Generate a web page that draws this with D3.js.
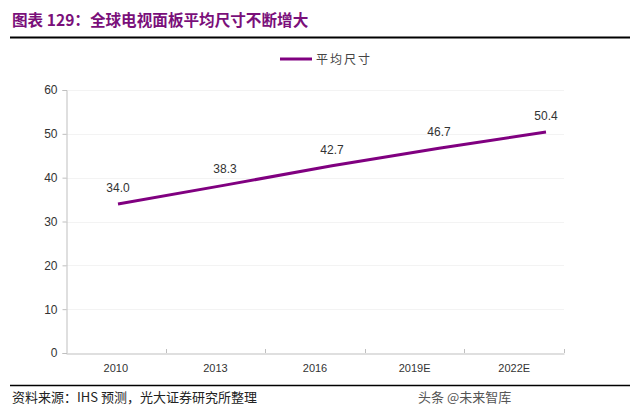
<!DOCTYPE html>
<html><head><meta charset="utf-8">
<script src="https://cdn.jsdelivr.net/npm/d3@7"></script>
<style>body{margin:0;background:#fff}svg{display:block}</style>
</head><body><svg id="c" width="640" height="415"></svg>
<script>
const categories = ["2010","2013","2016","2019E","2022E"];
const values = [34.0, 38.3, 42.7, 46.7, 50.4];
const yTicks = [0,10,20,30,40,50,60];
const seriesName = "平均尺寸";
const titleText = "图表 129：全球电视面板平均尺寸不断增大";
const sourceText = "资料来源：IHS 预测，光大证券研究所整理";
const watermark = "头条 @未来智库";

const svg = d3.select("#c");
const purple = "#800080";
const font = "'Liberation Sans', Arial, sans-serif";
const cjk = "'Noto Sans CJK SC', sans-serif";

svg.append("text").attr("x",12).attr("y",26).text(titleText)
  .attr("font-family",cjk).attr("font-weight","bold").attr("font-size",15.6).attr("fill","#7a0f7a");
svg.append("line").attr("x1",10).attr("x2",630).attr("y1",37.5).attr("y2",37.5).attr("stroke","#000").attr("stroke-width",2);
svg.append("line").attr("x1",10).attr("x2",630).attr("y1",385.5).attr("y2",385.5).attr("stroke","#000").attr("stroke-width",1.5);
svg.append("text").attr("x",12).attr("y",402).text(sourceText)
  .attr("font-family",cjk).attr("font-size",13).attr("fill","#222");
svg.append("text").attr("x",418).attr("y",402).text(watermark)
  .attr("font-family",cjk).attr("font-size",13).attr("fill","#555");

const x = d3.scaleBand().domain(categories).range([66,564]);
const xLine = d3.scalePoint().domain(categories).range([118,546]);
const y = d3.scaleLinear().domain([0,60]).range([353,90]);

// faint grid
svg.append("g").selectAll("line").data(yTicks.slice(1)).join("line")
  .attr("x1",66).attr("x2",564).attr("y1",d=>Math.round(y(d))+0.5).attr("y2",d=>Math.round(y(d))+0.5)
  .attr("stroke","#f3f3f3");

const yAxis = svg.append("g").attr("transform","translate(66.5,0)")
  .call(d3.axisLeft(y).tickValues(yTicks).tickSize(4).tickPadding(5));
const xAxis = svg.append("g").attr("transform","translate(0,353.5)")
  .call(d3.axisBottom(x).tickSize(0).tickPadding(11));
// x ticks at band boundaries
svg.append("g").selectAll("line").data(categories).join("line")
  .attr("x1",d=>Math.round(x(d)+x.bandwidth())+0.5).attr("x2",d=>Math.round(x(d)+x.bandwidth())+0.5)
  .attr("y1",353).attr("y2",349).attr("stroke","#bfbfbf");
[yAxis,xAxis].forEach(g=>{
  g.selectAll("path,line").attr("stroke","#bfbfbf");
  g.selectAll("text").attr("font-family",font).attr("font-size",12).attr("fill","#333");
});
xAxis.selectAll("text").attr("font-size",11);

const data = categories.map((c,i)=>({c,v:values[i]}));
svg.append("path").datum(data)
  .attr("d",d3.line().x(d=>xLine(d.c)).y(d=>y(d.v)))
  .attr("fill","none").attr("stroke",purple).attr("stroke-width",3);
svg.append("g").selectAll("text").data(data).join("text")
  .attr("x",d=>xLine(d.c)).attr("y",d=>y(d.v)-12).attr("text-anchor","middle")
  .text(d=>d.v.toFixed(1)).attr("font-family",font).attr("font-size",12).attr("fill","#333");

// legend
svg.append("line").attr("x1",280).attr("x2",312).attr("y1",59).attr("y2",59).attr("stroke",purple).attr("stroke-width",3);
svg.append("text").attr("x",316).attr("y",63.5).text(seriesName)
  .attr("font-family",cjk).attr("font-size",12).attr("letter-spacing",2).attr("fill","#444");
</script></body></html>
